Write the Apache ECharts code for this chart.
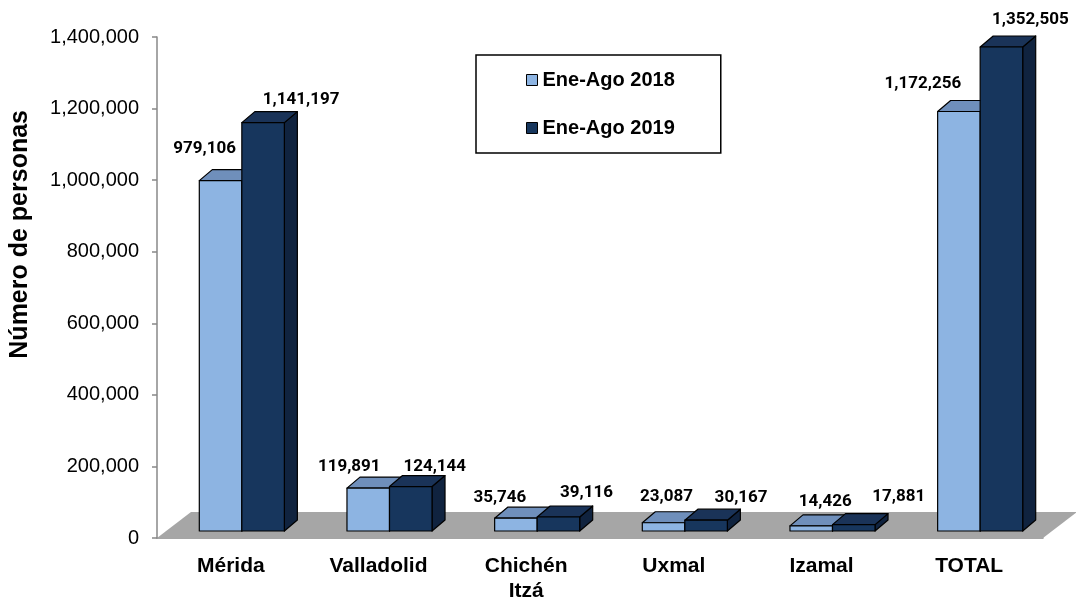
<!DOCTYPE html>
<html>
<head>
<meta charset="utf-8">
<script src="https://cdn.jsdelivr.net/npm/echarts@6/dist/echarts.min.js"></script>
<style>
  html, body { margin: 0; padding: 0; background: #fff; }
  #chart { width: 1076px; height: 600px; }
</style>
</head>
<body>
<div id="chart"></div>
<script>
// datos
const categories = ['Mérida', 'Valladolid', 'Chichén\nItzá', 'Uxmal', 'Izamal', 'TOTAL'];
const ene2018 = [979106, 119891, 35746, 23087, 14426, 1172256];
const ene2019 = [1141197, 124144, 39116, 30167, 17881, 1352505];
const seriesNames = ['Ene-Ago 2018', 'Ene-Ago 2019'];

// ajuste manual de etiquetas (px, relativo a la cara frontal de cada barra)
const labelNudge2018 = [[-16, -32], [-19, -21], [-16, -20], [3, -26], [14, -24], [-36, -28]];
const labelNudge2019 = [[38, -23], [24, -20], [28, -24], [35, -22], [45, -28], [29, -27]];

// efecto 3D
const SHIFT_X = 11, SHIFT_Y = -7;   // barras en medio del piso
const DEPTH_X = 13, DEPTH_Y = -11;  // profundidad de cada barra
const FLOOR_X = 34, FLOOR_Y = -26;  // profundidad del piso

const fmt = v => Math.round(v).toString().replace(/\B(?=(\d{3})+(?!\d))/g, ',');

const chart = echarts.init(document.getElementById('chart'));

function barSeries(name, values, slot, colors, nudge) {
  return {
    type: 'custom',
    name: name,
    data: values.map((v, i) => [i, v]),
    encode: { x: 0, y: 1 },
    itemStyle: { color: colors.front },
    z: 3 + slot,
    renderItem: function (params, api) {
      const i = api.value(0), v = api.value(1);
      const base = api.coord([i, 0]);
      const top = api.coord([i, v]);
      const w = api.size([1, 0])[0] * 0.288;
      const x0 = base[0] + SHIFT_X - (slot === 0 ? w : 0);
      const yb = base[1] + SHIFT_Y;
      const yt = top[1] + SHIFT_Y;
      const stroke = { stroke: '#000', lineWidth: 1.2, lineJoin: 'round' };
      const n = nudge[i];
      return {
        type: 'group',
        children: [
          {
            type: 'polygon',
            shape: { points: [[x0 + w, yt], [x0 + w + DEPTH_X, yt + DEPTH_Y], [x0 + w + DEPTH_X, yb + DEPTH_Y], [x0 + w, yb]] },
            style: Object.assign({ fill: colors.side }, stroke)
          },
          {
            type: 'polygon',
            shape: { points: [[x0, yt], [x0 + DEPTH_X, yt + DEPTH_Y], [x0 + w + DEPTH_X, yt + DEPTH_Y], [x0 + w, yt]] },
            style: Object.assign({ fill: colors.top }, stroke)
          },
          {
            type: 'rect',
            shape: { x: x0, y: yt, width: w, height: yb - yt },
            style: Object.assign({ fill: colors.front }, stroke)
          },
          {
            type: 'text',
            style: {
              text: fmt(v),
              x: x0 + w / 2 + n[0],
              y: yt + n[1],
              align: 'center',
              verticalAlign: 'middle',
              fontFamily: 'Roboto',
              fontWeight: 'bold',
              fontSize: 17,
              fill: '#000'
            }
          }
        ]
      };
    }
  };
}

const option = {
  backgroundColor: '#fff',
  animation: false,
  grid: { left: 157, right: 33, top: 37, bottom: 62, outerBoundsMode: 'none' },
  legend: {
    data: seriesNames,
    orient: 'vertical',
    left: 476,
    top: 55,
    padding: [15, 46, 15, 50],
    itemGap: 28,
    itemWidth: 11,
    itemHeight: 11,
    icon: 'rect',
    borderColor: '#000',
    borderWidth: 1.5,
    backgroundColor: '#fff',
    itemStyle: { borderColor: '#000', borderWidth: 1 },
    textStyle: { fontFamily: 'Liberation Sans', fontWeight: 'bold', fontSize: 20, color: '#000' }
  },
  xAxis: {
    type: 'category',
    data: categories,
    axisLine: { lineStyle: { color: '#888', width: 1.5 } },
    axisTick: { length: 7, lineStyle: { color: '#888', width: 1.5 } },
    axisLabel: {
      margin: 16,
      interval: 0,
      fontFamily: 'Liberation Sans',
      fontWeight: 'bold',
      fontSize: 21,
      lineHeight: 25,
      color: '#000'
    }
  },
  yAxis: {
    type: 'value',
    min: 0,
    max: 1400000,
    interval: 200000,
    splitLine: { show: false },
    axisLine: { show: true, lineStyle: { color: '#888', width: 1.5 } },
    axisTick: { show: true, length: 5, lineStyle: { color: '#888', width: 1.5 } },
    axisLabel: {
      margin: 18,
      formatter: fmt,
      fontFamily: 'Liberation Sans',
      fontSize: 20,
      color: '#000'
    }
  },
  graphic: [{
    type: 'text',
    left: 8,
    top: 110,
    rotation: Math.PI / 2,
    style: {
      text: 'Número de personas',
      fontFamily: 'Liberation Sans',
      fontWeight: 'bold',
      fontSize: 25,
      fill: '#000'
    }
  }],
  series: [
    {
      type: 'custom',
      name: 'piso',
      data: [[0, 0]],
      encode: { x: 0, y: 1 },
      z: 1,
      silent: true,
      renderItem: function (params) {
        const cs = params.coordSys;
        const yb = cs.y + cs.height;
        return {
          type: 'polygon',
          shape: { points: [[cs.x, yb], [cs.x + cs.width, yb], [cs.x + cs.width + FLOOR_X, yb + FLOOR_Y], [cs.x + FLOOR_X, yb + FLOOR_Y]] },
          style: { fill: '#a6a6a6' }
        };
      }
    },
    barSeries(seriesNames[0], ene2018, 0, { front: '#8db4e2', top: '#6f8fbb', side: '#5a7aa6' }, labelNudge2018),
    barSeries(seriesNames[1], ene2019, 1, { front: '#17365d', top: '#1a3358', side: '#10233f' }, labelNudge2019)
  ]
};

chart.setOption(option);
</script>
</body>
</html>
